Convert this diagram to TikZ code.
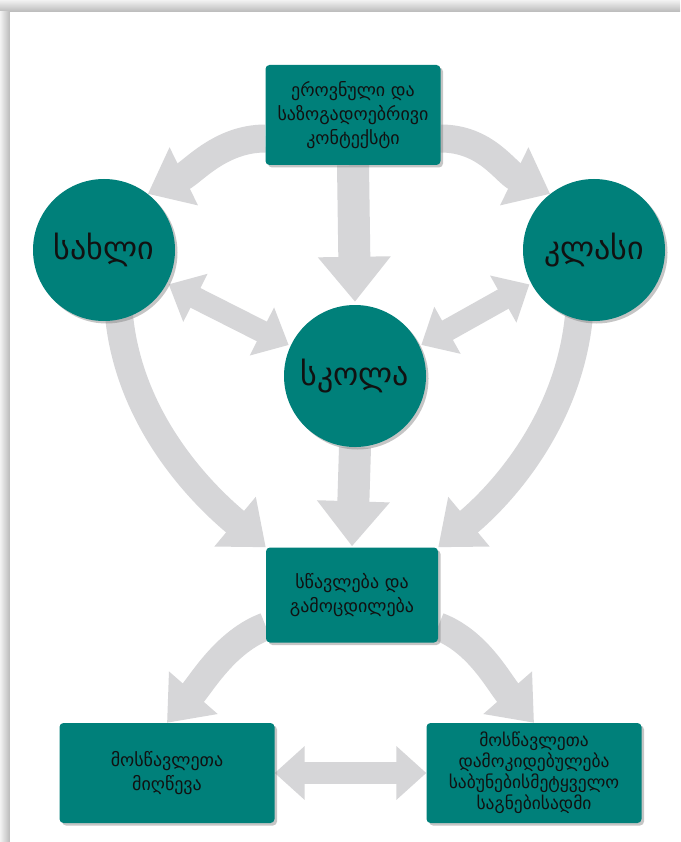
\documentclass[tikz,border=0pt]{standalone}
\usepackage{fontspec}
\newfontfamily\geo{DejaVu Sans}
\usetikzlibrary{arrows.meta,shadows,calc}
\definecolor{teal1}{HTML}{00807A}
\definecolor{agray}{RGB}{214,214,216}
\definecolor{txt}{HTML}{111111}
\pgfdeclarelayer{back}
\pgfdeclarelayer{arr}
\pgfsetlayers{back,arr,main}
\begin{document}
\begin{tikzpicture}[x=1pt,y=-1pt,
  shadowed/.style={drop shadow={opacity=0.45, shadow xshift=2.5pt, shadow yshift=-2.5pt}},
  box/.style={rectangle, rounded corners=4pt, fill=teal1, text=txt, shadowed,
    font=\geo\fontsize{18}{24}\selectfont, align=center, inner sep=0pt},
  circ/.style={circle, fill=teal1, text=txt, shadowed,
    font=\geo\fontsize{32}{38}\selectfont, inner sep=0pt, minimum size=142pt},
  bigarrow/.style={draw=agray, line width=28pt, -{Triangle[length=40pt,width=62pt]}},
  vertarrow/.style={draw=agray, line width=32pt, -{Triangle[length=45pt,width=70pt]}},
  dblarrow/.style={draw=agray, line width=22pt,
    {Triangle[length=30pt,width=52pt]}-{Triangle[length=30pt,width=52pt]}},
]
\useasboundingbox (0,0) rectangle (680,842);
\begin{pgfonlayer}{back}
  \fill[gray!30] (0,0) rectangle (680,842);
  \shade[top color=gray!10, bottom color=gray!55] (0,0) rectangle (680,12);
  \shade[left color=gray!10, right color=gray!55] (0,12) rectangle (10,842);
  \fill[white] (10,12) rectangle (680,842);
\end{pgfonlayer}

\node[box, minimum width=175pt, minimum height=100pt] (ctx) at (353,115)
  {ეროვნული და\\საზოგადოებრივი\\კონტექსტი};
\node[circ] (home) at (104,250) {სახლი};
\node[circ] (class) at (594,250) {კლასი};
\node[circ] (school) at (355,376) {სკოლა};
\node[box, minimum width=172pt, minimum height=95pt] (teach) at (352,595)
  {სწავლება და\\გამოცდილება};
\node[box, minimum width=215pt, minimum height=100pt] (ach) at (167,773)
  {მოსწავლეთა\\მიღწევა};
\node[box, minimum width=215pt, minimum height=100pt,
  font=\geo\fontsize{17.5}{21}\selectfont] (att) at (534,773)
  {მოსწავლეთა\\დამოკიდებულება\\საბუნებისმეტყველო\\საგნებისადმი};

\begin{pgfonlayer}{arr}
  \draw[bigarrow] (ctx.-165) .. controls +(-45,0) and +(45,-22) .. (home.52);
  \draw[bigarrow] (ctx.-15) .. controls +(45,0) and +(-45,-22) .. (class.128);
  \draw[vertarrow, shorten >=3pt] (ctx.south) -- (school.north);
  \draw[dblarrow, shorten <=2pt, shorten >=2pt] (home.-28) -- (school.155);
  \draw[dblarrow, shorten <=2pt, shorten >=2pt] (class.-152) -- (school.25);
  \draw[bigarrow] ([yshift=6pt]home.-78) .. controls +(10,110) and +(-60,-50) .. (teach.north west);
  \draw[bigarrow] ([yshift=6pt]class.-102) .. controls +(-10,110) and +(60,-50) .. (teach.north east);
  \draw[vertarrow, shorten >=1pt] (school.south) -- (teach.north);
  \draw[bigarrow] (teach.-160) .. controls +(-40,15) and +(35,-40) .. (ach.north);
  \draw[bigarrow] (teach.-20) .. controls +(40,15) and +(-35,-40) .. (att.north);
  \draw[dblarrow] (ach.east) -- (att.west);
\end{pgfonlayer}
\end{tikzpicture}
\end{document}
